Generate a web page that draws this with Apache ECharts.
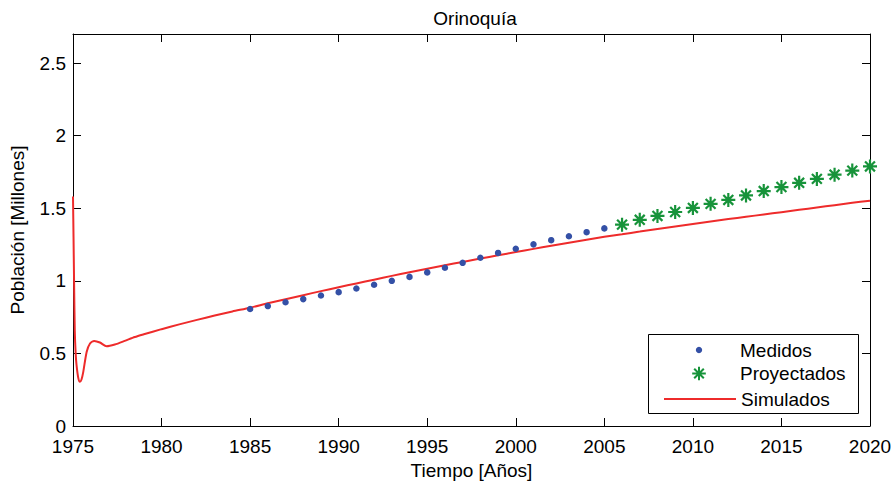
<!DOCTYPE html>
<html>
<head>
<meta charset="utf-8">
<style>
  html, body { margin: 0; padding: 0; background: #fff; }
  #chart { width: 895px; height: 488px; }
</style>
<script src="https://cdn.jsdelivr.net/npm/echarts@6/dist/echarts.min.js"></script>
</head>
<body>
<div id="chart"></div>
<script>
// ---- data ----
const chartTitle = 'Orinoquía';
const xAxisName = 'Tiempo [Años]';
const yAxisName = 'Población [Millones]';
const seriesNames = ['Medidos', 'Proyectados', 'Simulados'];

const medYears = [1985,1986,1987,1988,1989,1990,1991,1992,1993,1994,1995,1996,1997,1998,1999,2000,2001,2002,2003,2004,2005];
const medValues = [0.806,0.826,0.852,0.874,0.899,0.922,0.947,0.973,1.000,1.027,1.058,1.090,1.124,1.159,1.192,1.221,1.251,1.280,1.307,1.335,1.361];

const projYears = [2006,2007,2008,2009,2010,2011,2012,2013,2014,2015,2016,2017,2018,2019,2020];
const projValues = [1.387,1.420,1.447,1.474,1.502,1.530,1.557,1.588,1.618,1.646,1.675,1.702,1.731,1.759,1.788];

const simYears = [1975,1975.03,1975.06,1975.1,1975.15,1975.2,1975.3,1975.39,1975.48,1975.58,1975.77,1975.96,1976.2,1976.52,1976.9,1977.36,1977.92,1978.49,1979,
  1980,1981,1982,1983,1984,1985,1986,1987,1988,1989,1990,1991,1992,1993,1994,1995,1996,1997,1998,1999,
  2000,2001,2002,2003,2004,2005,2006,2007,2008,2009,2010,2011,2012,2013,2014,2015,2016,2017,2018,2019,2020];
const simValues = [1.58,1.30,1.00,0.66,0.50,0.42,0.33,0.304,0.32,0.373,0.51,0.568,0.586,0.575,0.549,0.561,0.586,0.613,0.632,
  0.667,0.700,0.731,0.761,0.789,0.815,0.845,0.873,0.901,0.929,0.956,0.982,1.008,1.034,1.059,1.083,1.107,1.130,1.153,1.176,
  1.198,1.220,1.241,1.262,1.283,1.303,1.321,1.339,1.357,1.374,1.391,1.408,1.425,1.441,1.457,1.473,1.489,1.505,1.521,1.537,1.552];

const xTicks = { min: 1975, max: 2020, interval: 5 };
const yTicks = { min: 0, max: 2.7, interval: 0.5 };

// ---- chart ----
const FONT = '"Liberation Sans", Arial, Helvetica, sans-serif';
const FS = 19;
const BLUE = '#3450a6', GREEN = '#17933a', RED = '#ee2b2b';
const STAR = 'path://M0,-10L0,10M-10,0L10,0M-7.07,-7.07L7.07,7.07M-7.07,7.07L7.07,-7.07';

const chart = echarts.init(document.getElementById('chart'), null, { renderer: 'svg' });

function xAx(pos, withLabels) {
  return {
    type: 'value', position: pos, min: xTicks.min, max: xTicks.max, interval: xTicks.interval,
    axisLine: { show: true, onZero: false, lineStyle: { color: '#000', width: 1 } },
    axisTick: { show: true, inside: true, length: 8, lineStyle: { color: '#000', width: 1 } },
    axisLabel: { show: withLabels, color: '#000', fontSize: FS, fontFamily: FONT, margin: 11,
      formatter: v => String(v) },
    splitLine: { show: false },
    name: withLabels ? xAxisName : '', nameLocation: 'middle', nameGap: 32,
    nameTextStyle: { color: '#000', fontSize: FS, fontFamily: FONT }
  };
}
function yAx(pos, withLabels) {
  return {
    type: 'value', position: pos, min: yTicks.min, max: yTicks.max, interval: yTicks.interval,
    axisLine: { show: true, onZero: false, lineStyle: { color: '#000', width: 1 } },
    axisTick: { show: true, inside: true, length: 8, lineStyle: { color: '#000', width: 1 } },
    axisLabel: { show: withLabels, showMaxLabel: false, color: '#000', fontSize: FS, fontFamily: FONT, margin: 7,
      formatter: v => String(v) },
    splitLine: { show: false },
    name: withLabels ? yAxisName : '', nameLocation: 'middle', nameGap: 46,
    nameTextStyle: { color: '#000', fontSize: FS, fontFamily: FONT }
  };
}

const legendCommon = {
  orient: 'vertical', left: 663, padding: 0, itemGap: 0, itemWidth: 72,
  selectedMode: false,
  textStyle: { color: '#000', fontSize: FS, fontFamily: FONT, lineHeight: 19 }
};

chart.setOption({
  animation: false,
  backgroundColor: '#fff',
  title: {
    text: chartTitle, left: 470, top: 4, textAlign: 'center',
    textStyle: { color: '#000', fontSize: FS, fontWeight: 'normal', fontFamily: FONT }
  },
  grid: { left: 70, right: 25, top: 34, bottom: 62, containLabel: false },
  xAxis: [xAx('bottom', true), xAx('top', false)],
  yAxis: [yAx('left', true), yAx('right', false)],
  graphic: [{
    type: 'rect', z: 3,
    shape: { x: 648.5, y: 334.5, width: 210, height: 79 },
    style: { fill: '#fff', stroke: '#000', lineWidth: 1 }
  }],
  legend: [
    Object.assign({}, legendCommon, { data: [seriesNames[0]], top: 340.5, itemHeight: 8, z: 5 }),
    Object.assign({}, legendCommon, { data: [seriesNames[1]], top: 364, itemHeight: 17, z: 5 }),
    Object.assign({}, legendCommon, { data: [{ name: seriesNames[2], itemStyle: { opacity: 0 } }], top: 389.5, itemHeight: 14, z: 5 })
  ],
  series: [
    {
      name: seriesNames[0], type: 'line', xAxisIndex: 0, yAxisIndex: 0,
      showSymbol: true, showAllSymbol: true, symbol: 'circle', symbolSize: 6.5,
      lineStyle: { width: 0, opacity: 0 },
      itemStyle: { color: BLUE },
      data: medYears.map((y, i) => [y, medValues[i]]),
      z: 4
    },
    {
      name: seriesNames[1], type: 'line', xAxisIndex: 0, yAxisIndex: 0,
      showSymbol: true, showAllSymbol: true, symbol: STAR, symbolSize: 14, symbolKeepAspect: true,
      lineStyle: { width: 0, opacity: 0 },
      itemStyle: { color: GREEN, borderColor: GREEN, borderWidth: 2.2 },
      data: projYears.map((y, i) => [y, projValues[i]]),
      z: 4
    },
    {
      name: seriesNames[2], type: 'line', xAxisIndex: 0, yAxisIndex: 0,
      symbol: 'none', smooth: 0.25, clip: false,
      lineStyle: { color: RED, width: 2 },
      itemStyle: { color: RED },
      data: simYears.map((y, i) => [y, simValues[i]]),
      z: 3
    }
  ]
});
</script>
</body>
</html>
